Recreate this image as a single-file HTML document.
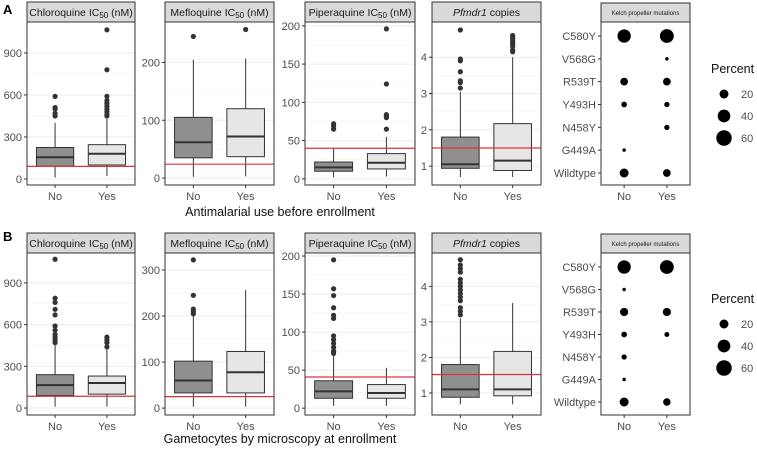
<!DOCTYPE html>
<html><head><meta charset="utf-8"><style>
body{margin:0;background:#fff;}
svg{display:block;font-family:"Liberation Sans",sans-serif;}
</style></head><body>
<svg id="c" width="757" height="450" viewBox="0 0 757 450" xmlns="http://www.w3.org/2000/svg">
<text x="3" y="14" font-size="13" font-weight="bold">A</text>
<text x="3" y="241" font-size="13" font-weight="bold">B</text>
<text x="280" y="216" font-size="12.5" text-anchor="middle" fill="#111">Antimalarial use before enrollment</text>
<text x="280" y="443" font-size="12.5" text-anchor="middle" fill="#111">Gametocytes by microscopy at enrollment</text>
</svg>
<script>
// categories
const groups = ["No","Yes"];
const mutations = ["C580Y","V568G","R539T","Y493H","N458Y","G449A","Wildtype"];
const legendValues = [20,40,60];
// Row A box stats [lowerWhisker,q1,median,q3,upperWhisker]
const cqA_no=[10,90,155,225,400], cqA_noOut=[450,470,500,510,590];
const cqA_yes=[20,100,180,245,430], cqA_yesOut=[450,460,480,500,520,540,560,590,780,1065];
const mqA_no=[2,35,62,105,205], mqA_noOut=[245];
const mqA_yes=[3,37,72,120,207], mqA_yesOut=[257];
const ppA_no=[2,10,15,22,41], ppA_noOut=[65,69,72];
const ppA_yes=[3,13,21,33,55], ppA_yesOut=[65,80,82,84,124,196];
const pfA_no=[0.7,0.94,1.05,1.8,3.05], pfA_noOut=[3.15,3.3,3.35,3.6,3.9,3.95,4.75];
const pfA_yes=[0.7,0.88,1.15,2.17,4.0], pfA_yesOut=[4.15,4.2,4.3,4.35,4.4,4.45,4.5,4.55,4.6];
// Row B
const cqB_no=[10,90,165,240,450], cqB_noOut=[470,490,510,530,560,590,670,710,760,790,1070];
const cqB_yes=[10,100,180,230,420], cqB_yesOut=[440,470,490,510];
const mqB_no=[3,33,60,102,200], mqB_noOut=[205,210,215,245,322];
const mqB_yes=[3,33,78,123,257], mqB_yesOut=[];
const ppB_no=[3,13,22,36,70], ppB_noOut=[72,75,80,85,90,95,118,122,132,148,157,195];
const ppB_yes=[3,13,20,31,53], ppB_yesOut=[];
const pfB_no=[0.68,0.88,1.1,1.8,3.1], pfB_noOut=[3.2,3.3,3.4,3.6,3.7,3.8,3.9,4.0,4.1,4.2,4.4,4.5,4.6,4.75];
const pfB_yes=[0.68,0.92,1.1,2.17,3.53], pfB_yesOut=[];
// red reference lines
const refA=[90,24,40,1.5], refB=[85,25,41,1.52];
// ticks
const cqTicks=[0,300,600,900], mqTicksA=[0,100,200], mqTicksB=[0,100,200,300], ppTicks=[0,50,100,150,200], pfTicks=[1,2,3,4];
// kelch percents
const kelchA_no=[44,0,15,8,0,3,20], kelchA_yes=[48,3,15,7,7,0,15];
const kelchB_no=[44,3,17,8,7,3,20], kelchB_yes=[48,0,17,6,0,0,14];

const NS="http://www.w3.org/2000/svg", svg=document.getElementById('c');
function mk(tag,attrs,parent){const e=document.createElementNS(NS,tag);for(const k in attrs)e.setAttribute(k,attrs[k]);(parent||svg).appendChild(e);return e;}
const rad=p=>1.0*Math.sqrt(p);

function boxPanel(name,x0,x1,top,bottom,dmin,dmax,ticks,title,boxes,outs,ref){
  const g=mk('g',{});
  
  
  const st=top-20;
  const y=v=>bottom-(v-dmin)/(dmax-dmin)*(bottom-top);
  const xs=[x0+(x1-x0)*0.26,x0+(x1-x0)*0.74], bw=(x1-x0)*0.345;
  const strip=mk('rect',{x:x0,y:st,width:x1-x0,height:20,fill:'#d9d9d9',stroke:'#333','stroke-width':1},g);
  
  
  const t=mk('text',{x:(x0+x1)/2,y:st+14,'font-size':10.5,'text-anchor':'middle',fill:'#1a1a1a'},g);
  t.innerHTML=title;
  
  
  for(let i=0;i<ticks.length;i++){
    const v=ticks[i], yy=y(v);
    mk('line',{x1:x0,x2:x1,y1:yy,y2:yy,stroke:'#ebebeb','stroke-width':1},g);
    if(i<ticks.length-1){const ym=y((v+ticks[i+1])/2); if(ym>top) mk('line',{x1:x0,x2:x1,y1:ym,y2:ym,stroke:'#f4f4f4','stroke-width':0.6},g);}
    mk('line',{x1:x0-3,x2:x0,y1:yy,y2:yy,stroke:'#333'},g);
    const tl=mk('text',{x:x0-5,y:yy+4,'font-size':11,'text-anchor':'end',fill:'#4d4d4d'},g);
    tl.textContent=v;
    
    
  }
  const fills=['#8f8f8f','#e6e6e6'];
  for(let k=0;k<2;k++){
    const b=boxes[k],cx=xs[k];
    mk('line',{x1:cx,x2:cx,y1:y(b[0]),y2:y(b[4]),stroke:'#333','stroke-width':1},g);
    const r=mk('rect',{x:cx-bw/2,y:y(b[3]),width:bw,height:y(b[1])-y(b[3]),fill:fills[k],stroke:'#333','stroke-width':1},g);
    
    
    mk('line',{x1:cx-bw/2,x2:cx+bw/2,y1:y(b[2]),y2:y(b[2]),stroke:'#333','stroke-width':2},g);
    for(const o of outs[k]){
      const c=mk('circle',{cx:cx,cy:y(o),r:2.6,fill:'#333'},g);
      
      
    }
    mk('line',{x1:cx,x2:cx,y1:bottom,y2:bottom+3,stroke:'#333'},g);
    const xl=mk('text',{x:cx,y:bottom+15,'font-size':11,'text-anchor':'middle',fill:'#4d4d4d'},g);
    xl.textContent=groups[k];
    
    
  }
  const rl=mk('line',{x1:x0,x2:x1,y1:y(ref),y2:y(ref),stroke:'#e0303a','stroke-width':1.2},g);
  
  
  mk('rect',{x:x0,y:top,width:x1-x0,height:bottom-top,fill:'none',stroke:'#333','stroke-width':1},g);
}

function kelchPanel(name,x0,x1,top,bottom,yFirst,yLast,vals){
  const g=mk('g',{});
  
  
  const st=top-19;
  mk('rect',{x:x0,y:st,width:x1-x0,height:19,fill:'#d9d9d9',stroke:'#333'},g);
  const t=mk('text',{x:(x0+x1)/2,y:st+12,'font-size':6,'text-anchor':'middle',fill:'#1a1a1a'},g);
  t.textContent='Kelch propeller mutations';
  
  
  mk('rect',{x:x0,y:top,width:x1-x0,height:bottom-top,fill:'#fff',stroke:'#333'},g);
  const xs=[x0+(x1-x0)*0.26,x0+(x1-x0)*0.74];
  const step=(yLast-yFirst)/(mutations.length-1);
  mutations.forEach((m,i)=>{
    const yy=yFirst+i*step;
    mk('line',{x1:x0-3,x2:x0,y1:yy,y2:yy,stroke:'#333'},g);
    const l=mk('text',{x:x0-5,y:yy+4,'font-size':11,'text-anchor':'end',fill:'#4d4d4d'},g);
    l.textContent=m;
    
    
    for(let k=0;k<2;k++){
      const p=vals[k][i]; if(p<=0) continue;
      const c=mk('circle',{cx:xs[k],cy:yy,r:rad(p),fill:'#000'},g);
      
      
    }
  });
  for(let k=0;k<2;k++){
    mk('line',{x1:xs[k],x2:xs[k],y1:bottom,y2:bottom+3,stroke:'#333'},g);
    const xl=mk('text',{x:xs[k],y:bottom+15,'font-size':11,'text-anchor':'middle',fill:'#4d4d4d'},g);
    xl.textContent=groups[k];
    
    
  }
}

function legend(name,ly){
  const g=mk('g',{});
  
  
  const t=mk('text',{x:711,y:ly,'font-size':12.5,fill:'#111'},g);
  t.textContent='Percent';
  legendValues.forEach((v,i)=>{
    const yy=ly+21+i*22;
    const c=mk('circle',{cx:724,cy:yy,r:rad(v),fill:'#000'},g);
    
    
    const l=mk('text',{x:741,y:yy+4,'font-size':11,fill:'#4d4d4d'},g);
    l.textContent=v;
  });
}

const IC='<tspan>IC</tspan><tspan font-size="8" dy="2">50</tspan><tspan dy="-2"> (nM)</tspan>';
// Row A
boxPanel('chloroquine-a',27,135,22,185,-43,1121,cqTicks,'Chloroquine '+IC,[cqA_no,cqA_yes],[cqA_noOut,cqA_yesOut],refA[0]);
boxPanel('mefloquine-a',165,274,22,185,-12,270,mqTicksA,'Mefloquine '+IC,[mqA_no,mqA_yes],[mqA_noOut,mqA_yesOut],refA[1]);
boxPanel('piperaquine-a',305,415,22,185,-8,205,ppTicks,'Piperaquine '+IC,[ppA_no,ppA_yes],[ppA_noOut,ppA_yesOut],refA[2]);
boxPanel('pfmdr1-a',432,541,22,185,0.48,4.97,pfTicks,'<tspan font-style="italic">Pfmdr1</tspan> copies',[pfA_no,pfA_yes],[pfA_noOut,pfA_yesOut],refA[3]);
kelchPanel('kelch-a',601,690,22,185,36,173,[kelchA_no,kelchA_yes]);
legend('legend-a',73);
// Row B
boxPanel('chloroquine-b',27,135,253,415,-50,1115,cqTicks,'Chloroquine '+IC,[cqB_no,cqB_yes],[cqB_noOut,cqB_yesOut],refB[0]);
boxPanel('mefloquine-b',165,274,253,415,-15,337,mqTicksB,'Mefloquine '+IC,[mqB_no,mqB_yes],[mqB_noOut,mqB_yesOut],refB[1]);
boxPanel('piperaquine-b',305,415,253,415,-9,204,ppTicks,'Piperaquine '+IC,[ppB_no,ppB_yes],[ppB_noOut,ppB_yesOut],refB[2]);
boxPanel('pfmdr1-b',432,541,253,415,0.38,4.94,pfTicks,'<tspan font-style="italic">Pfmdr1</tspan> copies',[pfB_no,pfB_yes],[pfB_noOut,pfB_yesOut],refB[3]);
kelchPanel('kelch-b',601,690,253,415,267,402,[kelchB_no,kelchB_yes]);
legend('legend-b',303);
</script>
</body></html>
